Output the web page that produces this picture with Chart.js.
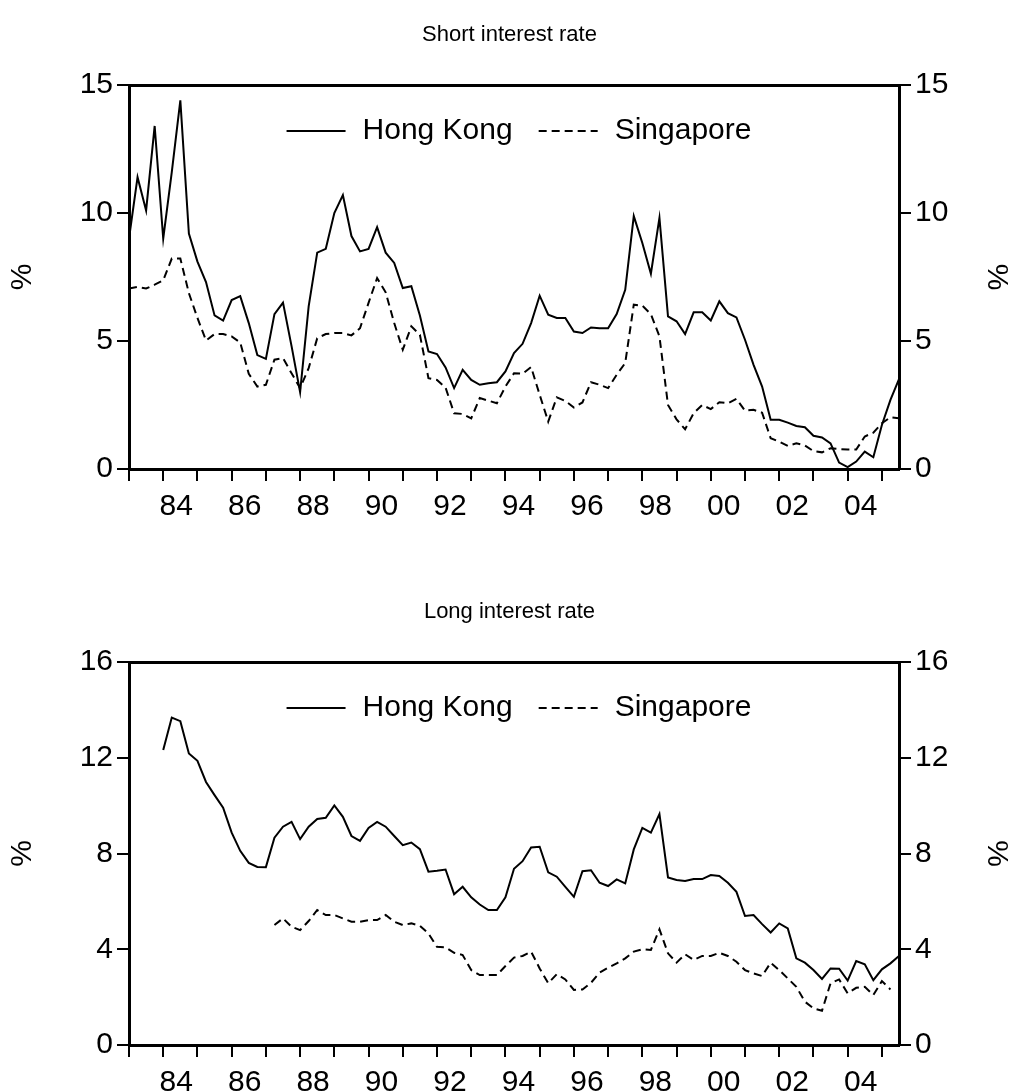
<!DOCTYPE html>
<html>
<head>
<meta charset="utf-8">
<title>Short and long interest rate</title>
<script src="https://cdn.jsdelivr.net/npm/chart.js@4"></script>
<style>
  body { margin: 0; background: #fff; }
  canvas { position: absolute; left: 0; }
  #taxaCurta { top: 0; }
  #taxaLonga { top: 577px; }
</style>
</head>
<body>
<canvas id="taxaCurta" width="1019" height="577"></canvas>
<canvas id="taxaLonga" width="1019" height="515"></canvas>
<script>
// Dados trimestrais, 1983Q1 a 2005Q3 (91 trimestres)
const anoInicial = 1983;
const anosTicks = [1983, 1984, 1985, 1986, 1987, 1988, 1989, 1990, 1991, 1992, 1993, 1994,
  1995, 1996, 1997, 1998, 1999, 2000, 2001, 2002, 2003, 2004, 2005];

const ticksCurta = [0, 5, 10, 15];
const ticksLonga = [0, 4, 8, 12, 16];

const hkCurta = [
  9.0, 11.4, 10.1, 13.4, 9.0, 11.6, 14.4, 9.2, 8.1, 7.3,
  6.0, 5.8, 6.6, 6.75, 5.7, 4.45, 4.3, 6.05, 6.5, 4.8,
  3.0, 6.35, 8.45, 8.6, 10.0, 10.7, 9.1, 8.5, 8.6, 9.45,
  8.45, 8.05, 7.07, 7.14, 6.0, 4.59, 4.49, 3.97, 3.16, 3.87,
  3.48, 3.29, 3.35, 3.39, 3.81, 4.53, 4.89, 5.7, 6.77, 6.03,
  5.9, 5.9, 5.37, 5.31, 5.53, 5.5, 5.5, 6.05, 7.0, 9.88,
  8.83, 7.63, 9.81, 5.96, 5.77, 5.27, 6.12, 6.12, 5.8, 6.55,
  6.09, 5.92, 5.05, 4.07, 3.22, 1.92, 1.92, 1.81, 1.68, 1.63,
  1.3, 1.23, 1.0, 0.25, 0.07, 0.29, 0.68, 0.46, 1.72, 2.7,
  3.51
];
const sgCurta = [
  7.05, 7.11, 7.05, 7.2, 7.37, 8.22, 8.22, 6.87, 5.9, 5.02,
  5.27, 5.27, 5.18, 4.94, 3.72, 3.22, 3.29, 4.27, 4.33, 3.74,
  3.16, 3.94, 5.11, 5.27, 5.31, 5.31, 5.22, 5.5, 6.49, 7.46,
  6.9, 5.7, 4.66, 5.57, 5.24, 3.55, 3.48, 3.18, 2.18, 2.15,
  1.98, 2.77, 2.67, 2.57, 3.22, 3.74, 3.72, 3.98, 2.9, 1.85,
  2.8, 2.66, 2.4, 2.6, 3.39, 3.29, 3.16, 3.68, 4.14, 6.42,
  6.38, 6.05, 5.18, 2.5, 1.94, 1.55, 2.18, 2.5, 2.34, 2.61,
  2.57, 2.74, 2.28, 2.31, 2.2, 1.2, 1.07, 0.9, 1.0, 0.92,
  0.7, 0.65, 0.81, 0.78, 0.76, 0.76, 1.27, 1.42, 1.79, 2.02,
  1.98
];
const hkLonga = [
  null, null, null, null, 12.32, 13.68, 13.53, 12.18, 11.87, 10.99,
  10.44, 9.91, 8.87, 8.11, 7.61, 7.44, 7.43, 8.66, 9.12, 9.32,
  8.6, 9.12, 9.44, 9.49, 10.01, 9.53, 8.73, 8.53, 9.07, 9.32,
  9.12, 8.73, 8.35, 8.46, 8.18, 7.24, 7.28, 7.33, 6.3, 6.61,
  6.17, 5.87, 5.64, 5.64, 6.17, 7.36, 7.68, 8.25, 8.28, 7.21,
  7.03, 6.61, 6.19, 7.26, 7.3, 6.78, 6.64, 6.92, 6.75, 8.17,
  9.07, 8.87, 9.65, 7.0, 6.89, 6.85, 6.93, 6.93, 7.1, 7.06,
  6.78, 6.4, 5.39, 5.43, 5.05, 4.7, 5.08, 4.87, 3.62, 3.44,
  3.13, 2.76, 3.2, 3.19, 2.69, 3.51, 3.37, 2.71, 3.16, 3.41,
  3.72
];
const sgLonga = [
  null, null, null, null, null, null, null, null, null, null,
  null, null, null, null, null, null, null, 5.01, 5.29, 4.94,
  4.8, 5.18, 5.64, 5.43, 5.43, 5.29, 5.15, 5.15, 5.22, 5.22,
  5.43, 5.15, 5.01, 5.08, 4.98, 4.66, 4.1, 4.08, 3.85, 3.76,
  3.13, 2.92, 2.92, 2.92, 3.3, 3.65, 3.72, 3.9, 3.2, 2.58,
  2.96, 2.74, 2.3, 2.32, 2.6, 3.02, 3.23, 3.41, 3.62, 3.9,
  4.0, 3.97, 4.83, 3.83, 3.44, 3.79, 3.55, 3.72, 3.72, 3.85,
  3.72, 3.48, 3.13, 2.99, 2.88, 3.44, 3.13, 2.78, 2.43, 1.81,
  1.53, 1.43, 2.58, 2.74, 2.16, 2.39, 2.43, 2.09, 2.67, 2.32,
  null
];

Chart.defaults.font.family = "'Liberation Sans', Arial, sans-serif";
Chart.defaults.color = "#000";

// Legenda desenhada dentro da área do gráfico
const legendaInterna = {
  id: "legendaInterna",
  afterDatasetsDraw(chart, args, opts) {
    const { ctx, chartArea } = chart;
    const sets = chart.data.datasets;
    ctx.save();
    ctx.font = opts.size + "px 'Liberation Sans', Arial, sans-serif";
    const larguras = sets.map((d) => ctx.measureText(d.label).width);
    let total = opts.spacing * (sets.length - 1);
    larguras.forEach((w) => { total += opts.sample + opts.gap + w; });
    let x = (chartArea.left + chartArea.right - total) / 2 + opts.shift;
    const y = chartArea.top + opts.offsetY;
    sets.forEach((d, i) => {
      ctx.beginPath();
      ctx.setLineDash(d.borderDash || []);
      ctx.lineWidth = d.borderWidth;
      ctx.strokeStyle = d.borderColor;
      ctx.moveTo(x, y);
      ctx.lineTo(x + opts.sample, y);
      ctx.stroke();
      x += opts.sample + opts.gap;
      ctx.setLineDash([]);
      ctx.fillStyle = "#000";
      ctx.textBaseline = "middle";
      ctx.fillText(d.label, x, y);
      x += larguras[i] + opts.spacing;
    });
    ctx.restore();
  }
};

function pontos(valores) {
  return valores.map((v, i) => ({ x: anoInicial + i / 4, y: v }));
}

function eixoY(posicao, yMax, yTicks, largura) {
  return {
    position: posicao,
    min: 0,
    max: yMax,
    afterBuildTicks: (s) => { s.ticks = yTicks.map((v) => ({ value: v })); },
    grid: { drawOnChartArea: false, drawTicks: true, tickLength: 12, color: "#000", lineWidth: 2 },
    border: { display: true, color: "#000", width: 3 },
    ticks: { color: "#000", font: { size: 30 }, padding: 4 },
    title: { display: true, text: "%", color: "#000", font: { size: 30 }, padding: { top: 5, bottom: 0 } },
    afterFit: (s) => { s.width = largura; }
  };
}

function criarGrafico(id, titulo, hk, sg, yMax, yTicks, alturaX) {
  const ctx = document.getElementById(id);
  return new Chart(ctx, {
    type: "line",
    data: {
      datasets: [
        {
          label: "Hong Kong",
          data: pontos(hk),
          borderColor: "#000",
          borderWidth: 2,
          pointRadius: 0,
          fill: false,
          tension: 0,
          xAxisID: "x",
          yAxisID: "y"
        },
        {
          label: "Singapore",
          data: pontos(sg),
          borderColor: "#000",
          borderWidth: 2,
          borderDash: [8, 5],
          pointRadius: 0,
          fill: false,
          tension: 0,
          xAxisID: "x",
          yAxisID: "y"
        }
      ]
    },
    options: {
      responsive: false,
      animation: false,
      layout: { padding: 0 },
      scales: {
        x: {
          type: "linear",
          position: "bottom",
          min: 1983,
          max: 2005.5,
          afterBuildTicks: (s) => { s.ticks = anosTicks.map((v) => ({ value: v })); },
          grid: { drawOnChartArea: false, drawTicks: true, tickLength: 12, color: "#000", lineWidth: 2 },
          border: { display: true, color: "#000", width: 3 },
          ticks: {
            color: "#000",
            font: { size: 30 },
            padding: 8,
            labelOffset: 13,
            maxRotation: 0,
            autoSkip: false,
            callback: (v) => (v % 2 === 0 ? String(v).slice(2) : "")
          },
          afterFit: (s) => { s.height = alturaX; }
        },
        xTopo: {
          type: "linear",
          position: "top",
          min: 1983,
          max: 2005.5,
          grid: { drawOnChartArea: false, drawTicks: false },
          border: { display: true, color: "#000", width: 3 },
          ticks: { display: false },
          afterFit: (s) => { s.height = 0; }
        },
        y: eixoY("left", yMax, yTicks, 129),
        y2: eixoY("right", yMax, yTicks, 120)
      },
      plugins: {
        legend: { display: false },
        tooltip: { enabled: false },
        title: {
          display: true,
          text: titulo,
          color: "#000",
          font: { size: 22, weight: "normal" },
          padding: { top: 22, bottom: 36.6 }
        },
        legendaInterna: { size: 30, sample: 59, gap: 17, spacing: 26, shift: 5, offsetY: 46 }
      }
    },
    plugins: [legendaInterna]
  });
}

criarGrafico("taxaCurta", "Short interest rate", hkCurta, sgCurta, 15, ticksCurta, 108);
criarGrafico("taxaLonga", "Long interest rate", hkLonga, sgLonga, 16, ticksLonga, 47);
</script>
</body>
</html>
